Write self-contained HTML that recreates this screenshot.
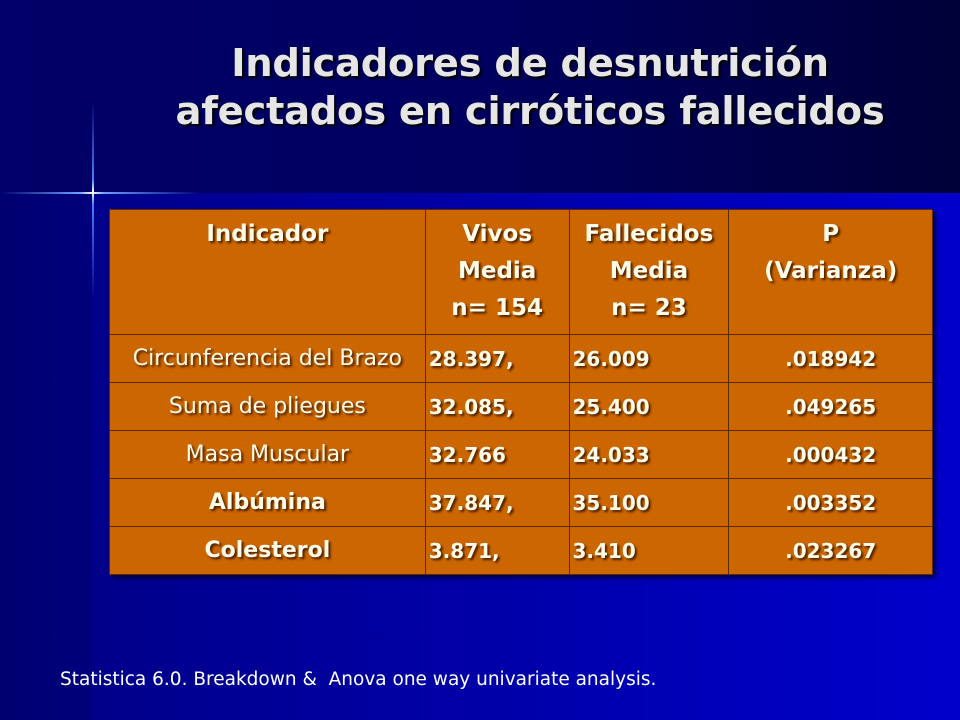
<!DOCTYPE html>
<html><head><meta charset="utf-8"><style>
*{margin:0;padding:0;box-sizing:border-box}
body{width:960px;height:720px;overflow:hidden;position:relative;font-family:"DejaVu Sans","Liberation Sans",sans-serif;
background:linear-gradient(90deg,#000070 0px,#00007c 92px,#00008a 93px,#0000b0 600px,#0000cc 960px);}
#top{position:absolute;left:0;top:0;width:960px;height:193px;background:linear-gradient(90deg,#000068 0%,#000060 50%,#000038 100%)}
.star-h{position:absolute;left:0;top:192px;width:200px;height:2px;background:linear-gradient(90deg,rgba(60,120,255,0),#6aa0ff 40%,#fff 46%,#6aa0ff 52%,rgba(60,120,255,0))}
.star-v{position:absolute;left:92px;top:100px;width:2px;height:200px;background:linear-gradient(180deg,rgba(60,120,255,0),#4a80ff 40%,#fff 46%,#4a80ff 52%,rgba(60,120,255,0))}
h1{position:absolute;left:100px;width:860px;top:40px;text-align:center;color:#e6e6e6;font-size:38.5px;font-weight:bold;line-height:48px;text-shadow:2px 2px 2px #000;letter-spacing:-0.3px}
table{position:absolute;left:109px;top:209px;width:824px;border-collapse:collapse;background:#cc6600;box-shadow:3px 3px 4px rgba(0,0,0,.6)}
td{border:1px solid #5a2a00;color:#fffbe8;font-size:20px;text-shadow:2px 2px 2px #4a2000;height:48px;text-align:center;font-weight:bold;white-space:nowrap}
tr.h td{height:125px;vertical-align:top;padding-top:6px;line-height:37px;font-size:23px}
td.n{font-weight:normal;font-size:22px}
td.b{font-size:22px}
td.l{text-align:left;padding-left:3px}
#foot{position:absolute;left:60px;top:669px;color:#fff;font-size:18.5px}
</style></head><body>
<div id="top"></div>
<div class="star-h"></div>
<div class="star-v"></div>
<h1>Indicadores de desnutrición<br>afectados en cirróticos fallecidos</h1>
<table>
<colgroup><col style="width:316px"><col style="width:144px"><col style="width:160px"><col style="width:204px"></colgroup>
<tr class="h"><td>Indicador</td><td>Vivos<br>Media<br>n= 154</td><td>Fallecidos<br>Media<br>n= 23</td><td>P<br>(Varianza)</td></tr>
<tr><td class="n">Circunferencia del Brazo</td><td class="l">28.397,</td><td class="l">26.009</td><td>.018942</td></tr>
<tr><td class="n">Suma de pliegues</td><td class="l">32.085,</td><td class="l">25.400</td><td>.049265</td></tr>
<tr><td class="n">Masa Muscular</td><td class="l">32.766</td><td class="l">24.033</td><td>.000432</td></tr>
<tr><td class="b">Albúmina</td><td class="l">37.847,</td><td class="l">35.100</td><td>.003352</td></tr>
<tr><td class="b">Colesterol</td><td class="l">3.871,</td><td class="l">3.410</td><td>.023267</td></tr>
</table>
<div id="foot">Statistica 6.0. Breakdown &amp;&nbsp; Anova one way univariate analysis.</div>
</body></html>
